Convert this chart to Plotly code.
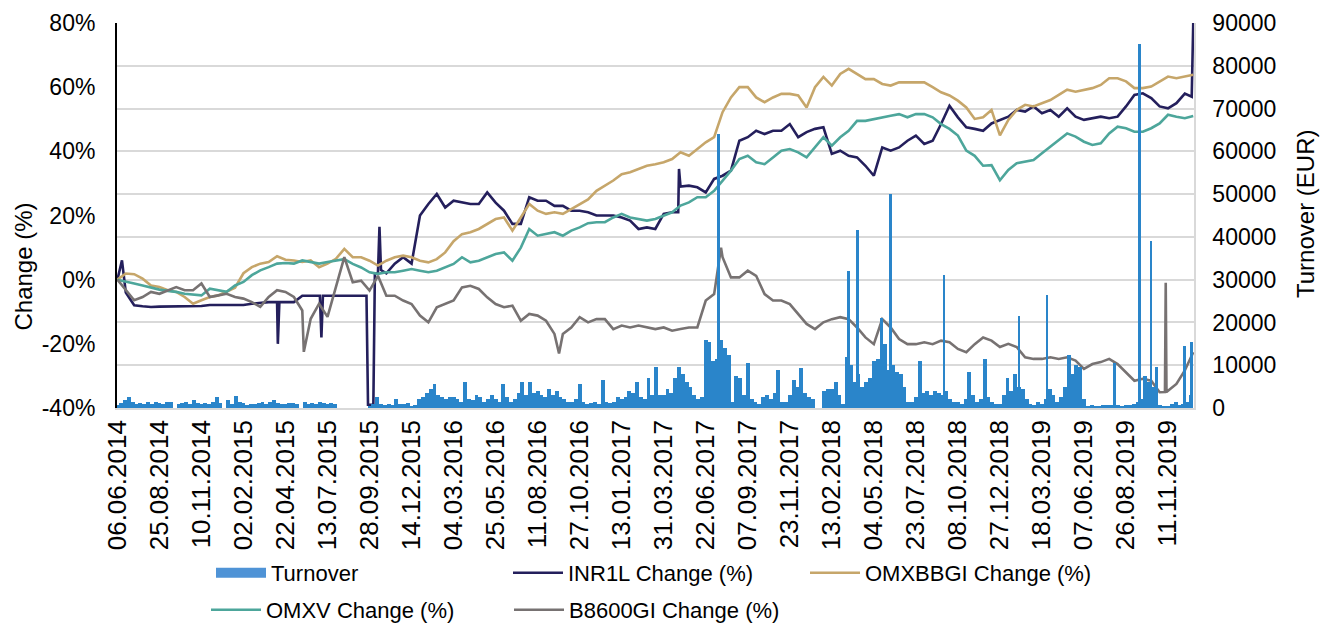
import plotly.graph_objects as go

# ---------------- data ----------------
TICK_LABELS = ["06.06.2014", "25.08.2014", "10.11.2014", "02.02.2015", "22.04.2015",
               "13.07.2015", "28.09.2015", "14.12.2015", "04.03.2016", "25.05.2016",
               "11.08.2016", "27.10.2016", "13.01.2017", "31.03.2017", "22.06.2017",
               "07.09.2017", "23.11.2017", "13.02.2018", "04.05.2018", "23.07.2018",
               "08.10.2018", "27.12.2018", "18.03.2019", "07.06.2019", "26.08.2019",
               "11.11.2019"]
SESSIONS_PER_LABEL = 55          # trading sessions between two printed dates
N_SESSIONS = 1409                # trading sessions shown
CHANGE_TICKS = [-40, -20, 0, 20, 40, 60, 80]

LINE_STEP = 11                   # sessions between sampled line values
INR1L = [0, -4, -8, -8.3, -8.5, -8.4, -8.4, -8.4, -8.4, -8.4, -8.2, -7.9, -7.9, -7.9, -7.9,
         -7.9, -7.5, -7.2, -7.0, -7.0, -7.0, -7.0, -5, -5, -5, -5, -5, -5, -5, -5,
         -39, 2, 2, 5, 7, 5, 20, 23.6, 26.7, 22.5, 24.6, 24, 23.6, 23.6, 27.2,
         24, 21.5, 17.4, 17.4, 25.7, 24.6, 24.6, 23, 23, 21.5, 21.5, 21, 20, 20, 20,
         19.4, 18.4, 15.8, 16.3, 15.8, 20.5, 21, 29, 29.3, 28.8, 27.2, 31.4, 32.4, 34, 43.3,
         44.4, 46.4, 45.4, 46.4, 46.4, 48.5, 44.4, 46, 47, 47.5, 39.2, 40.2, 38.6, 38.1, 35.5,
         32.4, 41.2, 40.2, 41.2, 43.3, 44.9, 42.3, 43.3, 48.5, 54.2, 50.6, 47.5, 47, 46.4, 48.7,
         49.8, 50.8, 52.9, 52.4, 54, 51.9, 52.9, 50.8, 53.4, 50.8, 49.8, 50.3, 50.8, 50.3, 50.8,
         54, 57.6, 58.1, 56.6, 54, 53.4, 55, 58, 80]
INR1L_EXTRA_SESS = [6, 210, 212, 265, 267, 269, 326, 328, 335, 337, 343, 345, 734, 735, 1406]
INR1L_EXTRA_VALS = [6, -20, -7, -5, -18, -5, -5, -39, -39, 2, 16.5, 3, 21, 34.5, 57]

OMXBBGI = [0, 1.9, 1.7, 0.3, -1.8, -2.3, -3.3, -3.8, -5.4, -7.5, -6.4, -5.4, -4.9, -3.8, -2.5,
           2, 3.9, 5, 5.5, 7.3, 6.2, 6, 5.5, 6, 3.9, 5, 6.5, 9.6, 7, 7,
           5.9, 4.4, 5.9, 7, 7.5, 7, 5.9, 5.4, 6.4, 8.5, 12, 14.2, 14.8, 15.8, 17.4,
           18.9, 19.4, 15.3, 19.4, 23.6, 21.5, 20.5, 21, 20.5, 22, 23.6, 25, 27.7, 29.3, 30.9,
           32.9, 33.5, 34.5, 35.5, 36, 36.6, 37.6, 39.7, 38.6, 40.7, 42.8, 44.4, 52.2, 56.8, 60,
           60, 56.8, 55.3, 56.8, 57.9, 57.9, 57.4, 53.7, 60, 63.2, 60.5, 64.1, 65.7, 64.1, 62.5,
           62.5, 61, 60.5, 61.5, 61.5, 61.5, 61.5, 60, 58.4, 57.4, 55.8, 53.7, 50.1, 50.6, 52.9,
           45, 49.8, 52.9, 54.5, 54, 55, 56, 57.6, 59.2, 58.6, 59.2, 59.7, 60.7, 62.8, 62.8,
           61.8, 59.7, 59.7, 60.2, 61.8, 63.3, 62.8, 63.3, 63.9]

OMXV = [0, -0.5, -1.2, -1.8, -2.5, -3.1, -3.5, -3.8, -4.4, -4.6, -4.9, -2.8, -3.3, -3.8, -1.8,
        -0.7, 1.4, 2.9, 3.9, 5, 5.2, 5, 6, 5.5, 5, 5.5, 6, 6.4, 4.9, 3.8,
        2.3, 1.8, 2.3, 2.3, 2.8, 3.3, 2.8, 2.3, 2.8, 3.8, 4.9, 7, 5.4, 5.9, 7,
        8, 8.5, 5.9, 10, 15.8, 13.7, 14.2, 14.8, 13.7, 15.3, 16.3, 17.6, 17.9, 17.9, 19.4,
        20.5, 19.4, 18.9, 18.4, 18.9, 19.9, 21, 23.1, 24.1, 25.7, 25.7, 27.7, 30.9, 34, 37.6,
        38.6, 36.6, 36, 38.1, 40.2, 40.7, 39.7, 38.1, 41.2, 44.4, 41.8, 44.4, 46.4, 49.5, 49.5,
        50.1, 50.6, 51.1, 51.6, 50.6, 51.6, 51.6, 50.6, 48.5, 47, 44.9, 40.2, 38.6, 35.5, 35.7,
        31, 34.2, 36.3, 36.8, 37.3, 39.4, 41.5, 43.5, 45.6, 44.6, 43, 42, 42.5, 45.6, 47.7,
        47.2, 46.1, 46.1, 47.2, 48.7, 51.4, 50.8, 50.3, 51]

B8600GI = [0, -3.3, -6.4, -5.4, -3.8, -4.4, -3.3, -2.3, -3.3, -3.3, -1.2, -5.4, -4.9, -4.4, -5.4,
           -5.9, -7, -8.5, -5.4, -3.3, -3.8, -5.4, -9.6, -12.2, -7.5, -11.6, -2, 7, -0.8, -0.3,
           -3.4, 1.2, -5, -5, -6.5, -7.6, -11.2, -13.3, -8.6, -7.6, -6.5, -2.4, -1.9, -2.9, -5.5,
           -7.6, -8.6, -8.1, -12.8, -10.7, -11.2, -12.8, -16.9, -16.9, -14.9, -11.7, -13.3, -12.3, -12.3, -15.4,
           -14.3, -14.9, -14.3, -14.9, -15.4, -14.9, -15.9, -15.4, -14.9, -14.9, -6.5, -4.5, 7, 0.7, 0.7,
           2.8, 1.2, -4.5, -6.5, -6.5, -7.6, -10.7, -13.8, -15.4, -13.3, -12.3, -11.7, -12.3, -14.9, -18,
           -20.1, -12.3, -14.9, -18.5, -20.1, -20.1, -19.5, -20.1, -19, -19.5, -21.6, -22.6, -20.1, -18, -19,
           -21, -20, -21, -24.2, -24.7, -24.7, -24.2, -24.7, -24.2, -25.2, -27.8, -26.3, -25.7, -24.7, -26.3,
           -28.9, -31.5, -30.9, -31.5, -35.1, -34.6, -32.5, -28.3, -22.6]
B8600GI_EXTRA_SESS = [244, 578, 790, 1371, 1372, 1373]
B8600GI_EXTRA_VALS = [-22.5, -23, 10, -35, -1, -35]

BAR_STEP = 5                     # sessions per turnover bar (EUR)
TURNOVER = [600, 1200, 1800, 2500, 1500, 1000, 1200, 900, 1300, 1000, 1500,
            1200, 1000, 1500, 1300, 0, 900, 1200, 1400, 1000, 1800, 1200,
            1000, 1200, 900, 1500, 2500, 1200, 0, 1800, 1000, 2800, 1500,
            1200, 800, 1000, 900, 1100, 1400, 1000, 1500, 1800, 1200, 1000,
            900, 1100, 1200, 1000, 0, 1300, 1000, 1200, 900, 1500, 1100,
            1000, 1200, 900, 0, 0, 0, 0, 0, 0, 0, 0,
            500, 1000, 2500, 1000, 800, 1000, 700, 2000, 1000, 900, 1200,
            500, 800, 2000, 2500, 3500, 4500, 5500, 3000, 2500, 2000, 2500,
            2500, 2000, 1500, 6000, 2000, 1800, 3000, 2500, 1500, 2000, 3000,
            2000, 1500, 5500, 2500, 1500, 2000, 3500, 6000, 3000, 6000, 3500,
            4000, 3000, 2500, 4500, 3000, 4000, 2500, 2000, 1500, 1500, 2000,
            5500, 1500, 1000, 1200, 1500, 1000, 6500, 1500, 1200, 1500, 2500,
            2000, 2500, 4000, 3500, 6000, 2500, 2000, 7000, 3000, 9500, 3000,
            3000, 4500, 3500, 7000, 9500, 8000, 6000, 5000, 3000, 2000, 2500,
            16000, 15500, 11000, 11500, 16000, 14000, 12500, 1500, 7500, 7000, 3000,
            10500, 2000, 1500, 1000, 2500, 3000, 2000, 3500, 9000, 1500, 1500,
            3000, 6500, 5000, 9300, 3500, 2500, 2000, 0, 0, 4000, 4500,
            4500, 6000, 3000, 1000, 12000, 10000, 6000, 8000, 5000, 6000, 7000,
            11000, 11500, 21000, 15000, 9000, 10000, 8500, 8000, 5000, 1500, 1500,
            2500, 11000, 3500, 4000, 3000, 4000, 3500, 3000, 4000, 2000, 1500,
            1500, 1000, 2000, 8500, 3000, 1500, 2000, 11500, 2500, 1500, 1000,
            1000, 3000, 7000, 4000, 8000, 5000, 4500, 2000, 1000, 800, 1500,
            1000, 2000, 4500, 3000, 1500, 2500, 5000, 12500, 8000, 10000, 9500,
            2000, 500, 600, 400, 500, 600, 800, 700, 10500, 700, 500,
            800, 600, 1000, 1500, 2000, 7500, 6000, 5000, 9500, 800, 500,
            500, 1000, 1500, 800, 1000, 1500, 3000]
TURNOVER_PEAK_SESS = [787, 957, 969, 1012, 1082, 1180, 1217, 1338, 1353, 1397, 1406]
TURNOVER_PEAK_VALS = [64000, 32000, 41500, 50000, 31000, 21500, 26500, 85000, 39000, 14500, 15500]

# ---------------- helpers ----------------
def merged(values, extra_s=(), extra_v=()):
    pts = [(i * LINE_STEP, v) for i, v in enumerate(values)] + list(zip(extra_s, extra_v))
    pts.sort(key=lambda p: p[0])
    return [p[0] for p in pts], [p[1] for p in pts]

W, H = 1327, 631
PL, PR, PT, PB = 117, 1194, 23, 408          # plot-area edges in page pixels
FONT = "Liberation Sans, Arial, sans-serif"
C_BAR = "#2A85CA"
C_BAR_KEY = "#4F93D6"
C_INR = "#241F5C"
C_OMXB = "#C6A66A"
C_OMXV = "#4DA69B"
C_B86 = "#777272"

fig = go.Figure()

bar_x = [i * BAR_STEP for i in range(len(TURNOVER))]
fig.add_trace(go.Bar(x=bar_x, y=TURNOVER, width=BAR_STEP, name="Turnover",
                     marker=dict(color=C_BAR, line=dict(width=0)), yaxis="y2",
                     showlegend=False))
fig.add_trace(go.Bar(x=TURNOVER_PEAK_SESS, y=TURNOVER_PEAK_VALS, width=2.5, name="Turnover",
                     marker=dict(color=C_BAR, line=dict(width=0)), yaxis="y2",
                     showlegend=False))
# legend key for the turnover bars (wide box as in the original legend)
fig.add_trace(go.Scatter(x=[None], y=[None], mode="lines", name="Turnover", yaxis="y2",
                         line=dict(color=C_BAR_KEY, width=10), legend="legend"))

xs, ys = merged(INR1L, INR1L_EXTRA_SESS, INR1L_EXTRA_VALS)
fig.add_trace(go.Scatter(x=xs, y=ys, mode="lines", name="INR1L Change (%)",
                         line=dict(color=C_INR, width=2.6), legend="legend"))
xs, ys = merged(OMXBBGI)
fig.add_trace(go.Scatter(x=xs, y=ys, mode="lines", name="OMXBBGI Change (%)",
                         line=dict(color=C_OMXB, width=2.6), legend="legend"))
xs, ys = merged(OMXV)
fig.add_trace(go.Scatter(x=xs, y=ys, mode="lines", name="OMXV Change (%)",
                         line=dict(color=C_OMXV, width=2.6), legend="legend2"))
xs, ys = merged(B8600GI, B8600GI_EXTRA_SESS, B8600GI_EXTRA_VALS)
fig.add_trace(go.Scatter(x=xs, y=ys, mode="lines", name="B8600GI Change (%)",
                         line=dict(color=C_B86, width=2.6), legend="legend2"))

TRANSPARENT = "rgba(0,0,0,0)"
legend_common = dict(orientation="h", xanchor="left", yanchor="middle",
                     xref="container", yref="container",
                     font=dict(family=FONT, size=22, color="#000000"),
                     entrywidthmode="pixels", itemwidth=50,
                     bgcolor=TRANSPARENT, traceorder="normal")

fig.update_layout(
    width=W, height=H,
    margin=dict(l=PL, r=W - PR, t=PT, b=H - PB, autoexpand=False),
    paper_bgcolor="white", plot_bgcolor="white",
    font=dict(family=FONT, size=22, color="#000000"),
    barmode="overlay", bargap=0,
    showlegend=True,
    legend=dict(x=(272 - 61) / W, y=1 - 573 / H, entrywidth=232, **legend_common),
    legend2=dict(x=(267 - 61) / W, y=1 - 610 / H, entrywidth=238, **legend_common),
    xaxis=dict(range=[-0.5, N_SESSIONS],
               tickmode="array",
               tickvals=[i * SESSIONS_PER_LABEL for i in range(len(TICK_LABELS))],
               ticktext=TICK_LABELS, tickangle=-90,
               tickfont=dict(family=FONT, size=26, color="#000000"),
               ticks="", showgrid=False, zeroline=False,
               showline=True, linecolor="#D9D9D9", linewidth=1.5),
    yaxis=dict(range=[-40, 80], tickmode="array", tickvals=CHANGE_TICKS,
               ticktext=[f"{v}%" for v in CHANGE_TICKS],
               tickfont=dict(family=FONT, size=23, color="#000000"),
               ticks="outside", ticklen=15, tickcolor=TRANSPARENT,
               showgrid=False, zeroline=False,
               showline=True, linecolor="#000000", linewidth=2),
    yaxis2=dict(range=[0, 90000], dtick=10000, tickformat="d",
                overlaying="y", side="right",
                tickfont=dict(family=FONT, size=23, color="#000000"),
                ticks="outside", ticklen=12, tickcolor=TRANSPARENT,
                showgrid=True, gridcolor="#D9D9D9", gridwidth=1.5,
                zeroline=False,
                showline=True, linecolor="#D9D9D9", linewidth=1.5),
    annotations=[
        dict(text="Change (%)", textangle=-90, xref="paper", yref="paper",
             x=(22.5 - PL) / (PR - PL), y=(PB - 267) / (PB - PT),
             xanchor="center", yanchor="middle",
             showarrow=False, font=dict(family=FONT, size=24, color="#000000")),
        dict(text="Turnover (EUR)", textangle=-90, xref="paper", yref="paper",
             x=(1305 - PL) / (PR - PL), y=(PB - 214) / (PB - PT),
             xanchor="center", yanchor="middle",
             showarrow=False, font=dict(family=FONT, size=24, color="#000000")),
    ],
)

fig.write_html("out.html", config={"displayModeBar": False},
               post_script="document.body.style.margin='0px';document.body.style.overflow='hidden';")
